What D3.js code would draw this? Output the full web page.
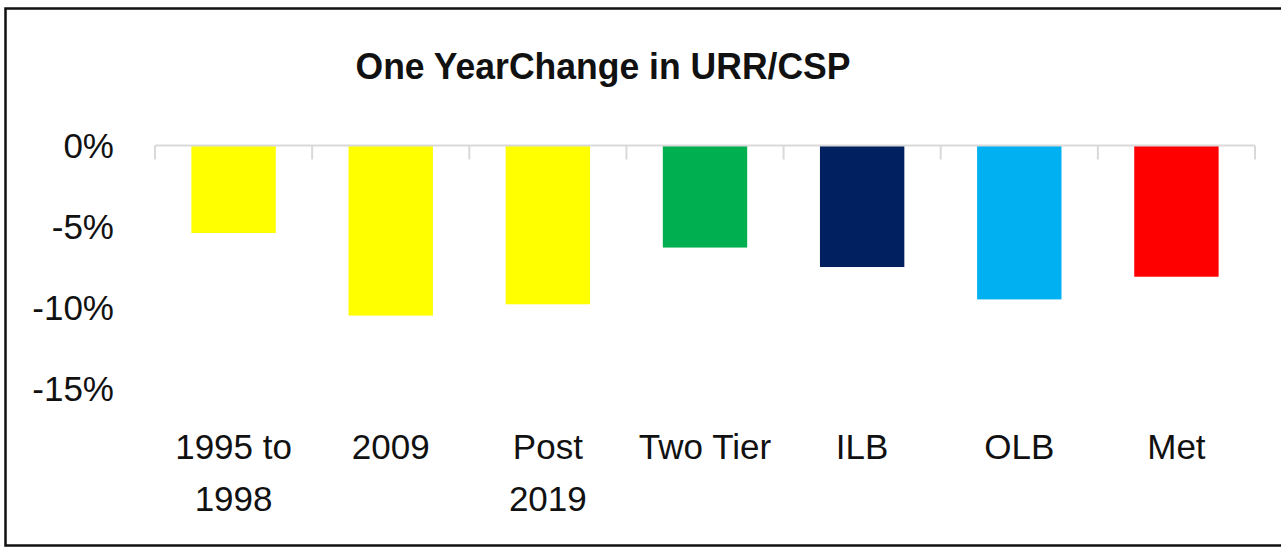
<!DOCTYPE html>
<html>
<head>
<meta charset="utf-8">
<script src="https://cdn.jsdelivr.net/npm/d3@7"></script>
<style>
  html, body { margin: 0; padding: 0; background: #fff; }
  svg { display: block; }
  text { font-family: "Liberation Sans", Arial, sans-serif; fill: #111; }
</style>
</head>
<body>
<svg id="chart" width="1281" height="548"></svg>
<script>
// Chart data
const categories = ["1995 to 1998", "2009", "Post 2019", "Two Tier", "ILB", "OLB", "Met"];
const categoryLines = [["1995 to", "1998"], ["2009"], ["Post", "2019"], ["Two Tier"], ["ILB"], ["OLB"], ["Met"]];
const changePct = [-5.4, -10.5, -9.8, -6.3, -7.5, -9.5, -8.1];
const barColors = ["#FFFF00", "#FFFF00", "#FFFF00", "#00B050", "#002060", "#00B0F0", "#FF0000"];
const yTicks = [0, -5, -10, -15];
const titleText = "One YearChange in URR/CSP";

(function drawChart() {
  const svg = d3.select("#chart");

  // Outer frame
  svg.append("rect")
    .attr("x", 5.5).attr("y", 8.5)
    .attr("width", 1300).attr("height", 537)
    .attr("fill", "#fff")
    .attr("stroke", "#111").attr("stroke-width", 2.5);

  // Title (slightly condensed bold face)
  svg.append("text")
    .attr("x", 603).attr("y", 79)
    .attr("text-anchor", "middle")
    .attr("font-size", 37)
    .attr("font-weight", "bold")
    .attr("textLength", 495)
    .attr("lengthAdjust", "spacingAndGlyphs")
    .text(titleText);

  // Plot area
  const plotLeft = 155, plotRight = 1255, plotTop = 145.5, plotBottom = 388.5;

  const x = d3.scaleBand()
    .domain(categories)
    .range([plotLeft, plotRight])
    .paddingInner(0.463)
    .paddingOuter(0.2315);

  const y = d3.scaleLinear()
    .domain([0, -15])
    .range([plotTop, plotBottom]);

  // Bars
  svg.append("g").selectAll("rect")
    .data(categories)
    .join("rect")
    .attr("x", d => x(d))
    .attr("width", x.bandwidth())
    .attr("y", y(0))
    .attr("height", (d, i) => y(changePct[i]) - y(0))
    .attr("fill", (d, i) => barColors[i]);

  // Category axis line along zero, with ticks at category boundaries
  const axisG = svg.append("g");
  axisG.append("line")
    .attr("x1", plotLeft).attr("x2", plotRight)
    .attr("y1", y(0)).attr("y2", y(0))
    .attr("stroke", "#D9D9D9").attr("stroke-width", 2);
  axisG.selectAll("line.tick")
    .data(d3.range(categories.length + 1))
    .join("line")
    .attr("class", "tick")
    .attr("x1", i => plotLeft + i * x.step())
    .attr("x2", i => plotLeft + i * x.step())
    .attr("y1", y(0)).attr("y2", y(0) + 14)
    .attr("stroke", "#D9D9D9").attr("stroke-width", 2);

  // Value axis labels
  svg.append("g").selectAll("text")
    .data(yTicks)
    .join("text")
    .attr("x", 114)
    .attr("y", d => y(d))
    .attr("dy", "0.35em")
    .attr("text-anchor", "end")
    .attr("font-size", 35)
    .text(d => d3.format(".0%")(d / 100).replace("−", "-"));

  // Category labels (wrapped onto two lines where needed)
  svg.append("g").selectAll("text")
    .data(categories)
    .join("text")
    .attr("text-anchor", "middle")
    .attr("font-size", 35)
    .each(function(d, i) {
      const t = d3.select(this);
      categoryLines[i].forEach((line, j) => {
        t.append("tspan")
          .attr("x", x(d) + x.bandwidth() / 2)
          .attr("y", 459 + j * 52)
          .text(line);
      });
    });
})();
</script>
</body>
</html>
